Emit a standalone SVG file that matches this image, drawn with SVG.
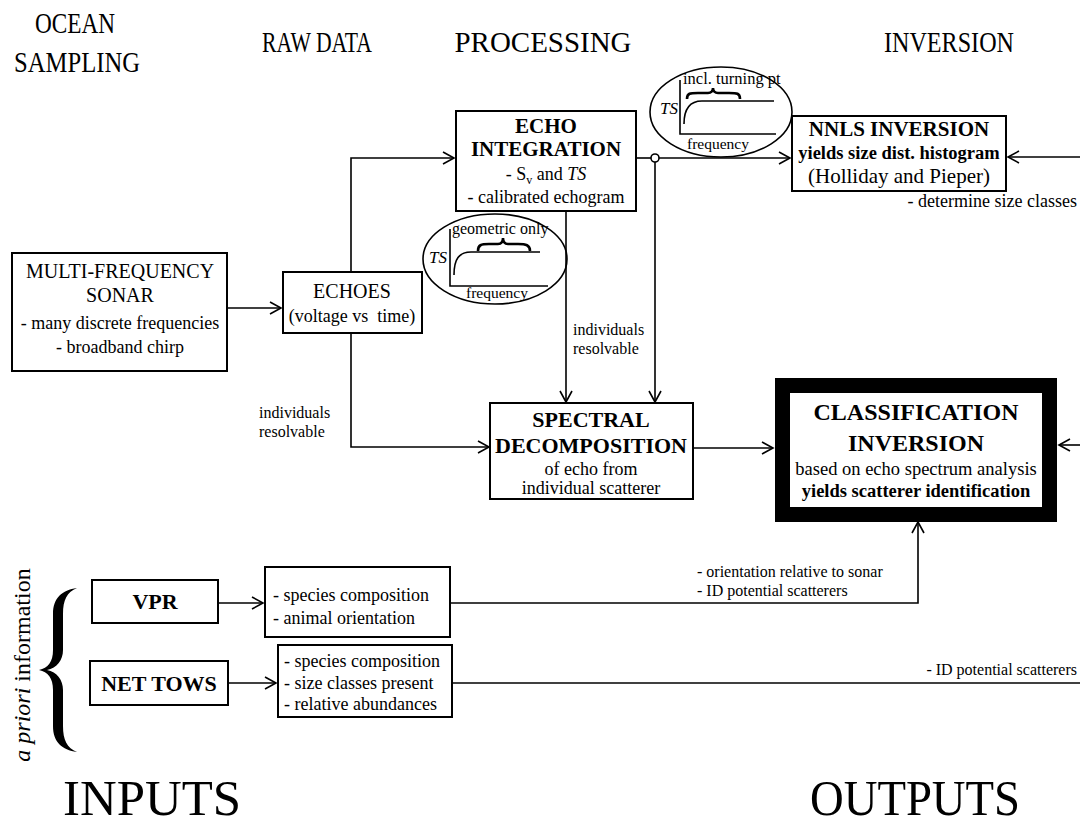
<svg xmlns="http://www.w3.org/2000/svg" width="1080" height="825" viewBox="0 0 1080 825">
<style>
text{font-family:"Liberation Serif","Times New Roman",serif;fill:#000}
.hd{font-size:30px;text-anchor:middle}
.big{font-size:50px;text-anchor:middle}
.b{font-weight:bold}
.c{text-anchor:middle}
.r18{font-size:18px}
.s16{font-size:16px}
.s15{font-size:15px}
.box{fill:#fff;stroke:#000;stroke-width:2}
.ln{fill:none;stroke:#000;stroke-width:1.6}
.th{fill:none;stroke:#000;stroke-width:2.6}
</style>
<defs>
<marker id="arr" markerWidth="14" markerHeight="14" refX="12" refY="7" orient="auto" markerUnits="userSpaceOnUse">
<path d="M1,1 L12,7 L1,13" fill="none" stroke="#000" stroke-width="1.6"/>
</marker>
</defs>
<rect width="1080" height="825" fill="#fff"/>

<g id="headers">
<text class="hd" x="75" y="33" textLength="80" lengthAdjust="spacingAndGlyphs">OCEAN</text>
<text class="hd" x="77" y="72" textLength="126" lengthAdjust="spacingAndGlyphs">SAMPLING</text>
<text class="hd" x="317" y="52" textLength="110" lengthAdjust="spacingAndGlyphs">RAW DATA</text>
<text class="hd" x="543" y="52" textLength="177" lengthAdjust="spacingAndGlyphs">PROCESSING</text>
<text class="hd" x="949" y="52" textLength="130" lengthAdjust="spacingAndGlyphs">INVERSION</text>
<text class="big" x="152" y="815" textLength="178" lengthAdjust="spacingAndGlyphs">INPUTS</text>
<text class="big" x="915" y="815" textLength="210" lengthAdjust="spacingAndGlyphs">OUTPUTS</text>
</g>

<g id="connectors">
<path class="ln" d="M227,308 L281,308" marker-end="url(#arr)"/>
<path class="ln" d="M351,272 L351,158 L454,158" marker-end="url(#arr)"/>
<path class="ln" d="M351,333 L351,447 L489,447" marker-end="url(#arr)"/>
<path class="ln" d="M636,158 L651,158"/>
<path class="ln" d="M659,158 L790,158" marker-end="url(#arr)"/>
<circle cx="655" cy="158" r="4" fill="#fff" stroke="#000" stroke-width="1.6"/>
<path class="ln" d="M655,162 L655,402" marker-end="url(#arr)"/>
<path class="ln" d="M566,211 L566,402" marker-end="url(#arr)"/>
<path class="ln" d="M1080,157 L1008,157" marker-end="url(#arr)"/>
<path class="ln" d="M692,448 L773,448" marker-end="url(#arr)"/>
<path class="ln" d="M1080,445 L1059,445" marker-end="url(#arr)"/>
<path class="ln" d="M450,603 L918,603 L918,522" marker-end="url(#arr)"/>
<path class="ln" d="M218,603 L263,603" marker-end="url(#arr)"/>
<path class="ln" d="M228,683 L276,683" marker-end="url(#arr)"/>
<path class="ln" d="M452,683 L1080,683"/>
</g>

<g id="sonar">
<rect class="box" x="12" y="253" width="215" height="118"/>
<text class="c" x="120" y="278" font-size="20">MULTI-FREQUENCY</text>
<text class="c" x="120" y="302" font-size="20">SONAR</text>
<text class="c r18" x="120" y="329">- many discrete frequencies</text>
<text class="c r18" x="120" y="353">- broadband chirp</text>
</g>

<g id="echoes">
<rect class="box" x="283" y="272" width="139" height="61"/>
<text class="c" x="352" y="298" font-size="20">ECHOES</text>
<text class="c r18" x="352" y="322" xml:space="preserve">(voltage vs  time)</text>
</g>

<g id="echo-integration">
<rect class="box" x="456" y="111" width="180" height="100"/>
<text class="c b" x="546" y="133" font-size="21">ECHO</text>
<text class="c b" x="546" y="156" font-size="21">INTEGRATION</text>
<text class="c r18" x="546" y="180">- S<tspan font-size="12" dy="4">v</tspan><tspan dy="-4"> and </tspan><tspan font-style="italic">TS</tspan></text>
<text class="c r18" x="546" y="203">- calibrated echogram</text>
</g>

<g id="ts-turning">
<ellipse cx="721" cy="112" rx="71" ry="45" class="ln"/>
<path class="ln" d="M680,80 L680,134 L776,134"/>
<path class="ln" d="M684,124 C684,108 690,101 702,101 L774,101"/>
<path class="th" d="M687,99 C687,93 690,93 698,93 L708,93 C711,93 713,91 713,88 C713,91 715,93 718,93 L729,93 C737,93 740,93 740,99"/>
<text x="683" y="84" font-size="16.5">incl. turning pt</text>
<text x="678" y="114" font-size="17" font-style="italic" text-anchor="end">TS</text>
<text class="c" x="718" y="149" font-size="15.5">frequency</text>
</g>

<g id="ts-geometric">
<ellipse cx="495" cy="259" rx="72" ry="45" class="ln"/>
<path class="ln" d="M450,229 L450,286 L548,286"/>
<path class="ln" d="M454,275 C454,259 459,252 471,252 L540,252"/>
<path class="th" d="M478,251 C478,245 481,244 489,244 L498,244 C501,244 503,242 503,238 C503,242 505,244 508,244 L518,244 C526,244 530,245 530,251"/>
<text x="452" y="234" font-size="16">geometric only</text>
<text x="447" y="263" font-size="17" font-style="italic" text-anchor="end">TS</text>
<text class="c" x="497" y="298" font-size="15.5">frequency</text>
</g>

<g id="nnls">
<rect class="box" x="792" y="116" width="214" height="75"/>
<text class="c b" x="899" y="136" font-size="21">NNLS INVERSION</text>
<text class="c b" x="899" y="159" font-size="18.5">yields size dist. histogram</text>
<text class="c" x="899" y="183" font-size="21">(Holliday and Pieper)</text>
</g>
<text id="size-label" class="r18" x="1077" y="207" text-anchor="end">- determine size classes</text>

<g id="labels">
<text class="s16" x="259" y="418">individuals</text>
<text class="s16" x="259" y="437">resolvable</text>
<text class="s16" x="573" y="335">individuals</text>
<text class="s16" x="573" y="354">resolvable</text>
<text class="s16" x="697" y="577">- orientation relative to sonar</text>
<text class="s16" x="697" y="596">- ID potential scatterers</text>
<text class="s16" x="1077" y="675" text-anchor="end">- ID potential scatterers</text>
</g>

<g id="spectral">
<rect class="box" x="490" y="403" width="203" height="96"/>
<text class="c b" x="591" y="427" font-size="22">SPECTRAL</text>
<text class="c b" x="591" y="453" font-size="22">DECOMPOSITION</text>
<text class="c r18" x="591" y="475">of echo from</text>
<text class="c r18" x="591" y="494">individual scatterer</text>
</g>

<g id="classification">
<rect x="782.5" y="385.5" width="267" height="129" fill="#fff" stroke="#000" stroke-width="15"/>
<text class="c b" x="916" y="420" font-size="24">CLASSIFICATION</text>
<text class="c b" x="916" y="451" font-size="24">INVERSION</text>
<text class="c" x="916" y="475" font-size="18.5">based on echo spectrum analysis</text>
<text class="c b" x="916" y="497" font-size="18.5">yields scatterer identification</text>
</g>

<g id="apriori">
<text x="0" y="0" font-size="24" text-anchor="middle" transform="translate(30,665) rotate(-90)"><tspan font-style="italic">a priori</tspan> information</text>
<path fill="#000" d="M77,588 C62,590 53,598 53,614 L53,650 C53,662 48,668 39,670 C48,672 53,678 53,690 L53,726 C53,742 62,750 77,752 C67,748 63,740 63,726 L63,690 C63,680 57,672 47,670 C57,668 63,660 63,650 L63,614 C63,600 67,592 77,588 Z"/>
</g>

<g id="vpr">
<rect class="box" x="92" y="580" width="126" height="43"/>
<text class="c b" x="155" y="609" font-size="22">VPR</text>
</g>
<g id="vpr-info">
<rect class="box" x="265" y="567" width="185" height="70"/>
<text class="r18" x="273" y="601">- species composition</text>
<text class="r18" x="273" y="624">- animal orientation</text>
</g>

<g id="net-tows">
<rect class="box" x="90" y="661" width="138" height="44"/>
<text class="c b" x="159" y="691" font-size="22">NET TOWS</text>
</g>
<g id="net-info">
<rect class="box" x="278" y="645" width="174" height="72"/>
<text class="r18" x="284" y="667">- species composition</text>
<text class="r18" x="284" y="689">- size classes present</text>
<text class="r18" x="284" y="710">- relative abundances</text>
</g>
</svg>
